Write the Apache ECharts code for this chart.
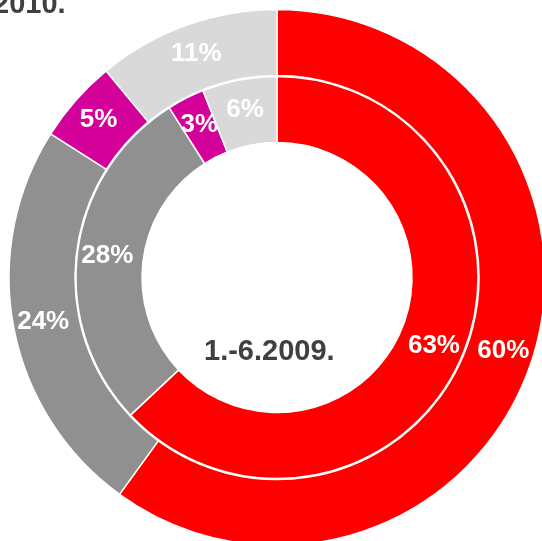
<!DOCTYPE html>
<html>
<head>
<meta charset="utf-8">
<style>
  html, body { margin: 0; padding: 0; background: #fff; }
  #chart { width: 542px; height: 541px; }
</style>
<script src="https://cdn.jsdelivr.net/npm/echarts@6/dist/echarts.min.js"></script>
</head>
<body>
<div id="chart"></div>
<script>
// segments in clockwise order starting at 12 o'clock
const categories = ['A', 'B', 'C', 'D']
const colors = ['#ff0000', '#909090', '#d4009a', '#d9d9d9']
const outerValues = [60, 24, 5, 11]   // 2010.
const innerValues = [63, 28, 3, 6]    // 1.-6.2009.
const outerTitle = '2010.'
const innerTitle = '1.-6.2009.'

const chart = echarts.init(document.getElementById('chart'))

function toData(values) {
  return values.map((v, i) => ({
    name: categories[i],
    value: v,
    itemStyle: { color: colors[i] }
  }))
}

const labelStyle = {
  show: true,
  position: 'inside',
  formatter: '{c}%',
  color: '#fff',
  fontFamily: 'Liberation Sans, Arial, sans-serif',
  fontWeight: 'bold',
  fontSize: 26,
  padding: [5, 0, 0, 0]
}

chart.setOption({
  animation: false,
  graphic: [
    {
      type: 'text',
      left: -7,
      top: -10,
      style: {
        text: outerTitle,
        fill: '#404040',
        font: 'bold 29px "Liberation Sans", Arial, sans-serif'
      }
    },
    {
      type: 'text',
      left: 204,
      top: 337,
      style: {
        text: innerTitle,
        fill: '#404040',
        font: 'bold 29px "Liberation Sans", Arial, sans-serif'
      }
    }
  ],
  series: [
    {
      name: innerTitle,
      type: 'pie',
      center: [277, 277.5],
      radius: [135, 201],
      startAngle: 90,
      clockwise: true,
      silent: true,
      itemStyle: { borderColor: '#fff', borderWidth: 1.5 },
      label: labelStyle,
      labelLine: { show: false },
      data: toData(innerValues)
    },
    {
      name: outerTitle,
      type: 'pie',
      center: [277, 277.5],
      radius: [202, 268],
      startAngle: 90,
      clockwise: true,
      silent: true,
      itemStyle: { borderColor: '#fff', borderWidth: 1.5 },
      label: labelStyle,
      labelLine: { show: false },
      data: toData(outerValues)
    }
  ]
})
</script>
</body>
</html>
